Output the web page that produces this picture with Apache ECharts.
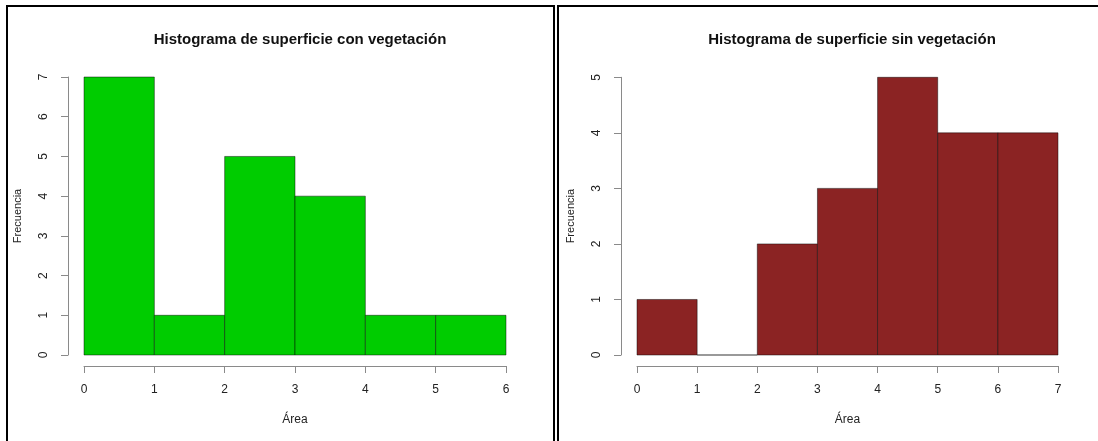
<!DOCTYPE html>
<html>
<head>
<meta charset="utf-8">
<script src="https://cdn.jsdelivr.net/npm/echarts@6/dist/echarts.min.js"></script>
<style>html,body{margin:0;padding:0;background:#fff;}#c{width:1098px;height:441px;}</style>
</head>
<body>
<div id="c"></div>
<script>
// Data
var titles = ['Histograma de superficie con vegetación', 'Histograma de superficie sin vegetación'];
var xName = 'Área';
var yName = 'Frecuencia';
var breaksCon = [0, 1, 2, 3, 4, 5, 6];
var countsCon = [7, 1, 5, 4, 1, 1];
var breaksSin = [0, 1, 2, 3, 4, 5, 6, 7];
var countsSin = [1, 0, 2, 3, 5, 4, 4];
var colorCon = '#00CC00';
var colorSin = '#8B2323';

function toData(breaks, counts) {
  var d = [];
  for (var i = 0; i < counts.length; i++) d.push([breaks[i], breaks[i + 1], counts[i]]);
  return d;
}

function renderItem(params, api) {
  var p0 = api.coord([api.value(0), api.value(2)]);
  var p1 = api.coord([api.value(1), 0]);
  return {
    type: 'rect',
    shape: { x: p0[0], y: p0[1], width: p1[0] - p0[0], height: p1[1] - p0[1] },
    style: { fill: api.visual('color'), stroke: 'rgba(0,0,0,0.45)', lineWidth: 1 }
  };
}

var font = 'Liberation Sans, Arial, sans-serif';
var axisLineStyle = { color: '#8a8a8a', width: 1 };

function xAxisCfg(gi, max) {
  return {
    gridIndex: gi, type: 'value', min: 0, max: max, interval: 1,
    offset: 11,
    name: xName, nameLocation: 'middle', nameGap: 48,
    nameTextStyle: { color: '#222', fontSize: 12, fontFamily: font },
    axisLine: { show: true, onZero: false, lineStyle: axisLineStyle },
    axisTick: { show: true, length: 7, lineStyle: axisLineStyle },
    axisLabel: { color: '#222', fontSize: 12, fontFamily: font, margin: 18 },
    splitLine: { show: false }
  };
}
function yAxisCfg(gi, max) {
  return {
    gridIndex: gi, type: 'value', min: 0, max: max, interval: 1,
    offset: 16,
    name: yName, nameLocation: 'middle', nameGap: 45, nameRotate: 90,
    nameTextStyle: { color: '#222', fontSize: 11, fontFamily: font },
    axisLine: { show: true, onZero: false, lineStyle: axisLineStyle },
    axisTick: { show: true, length: 7, lineStyle: axisLineStyle },
    axisLabel: { color: '#222', fontSize: 12, fontFamily: font, rotate: 90, margin: 18 },
    splitLine: { show: false }
  };
}

var chart = echarts.init(document.getElementById('c'), null, { renderer: 'canvas' });
chart.setOption({
  animation: false,
  backgroundColor: '#fff',
  title: [
    { text: titles[0], left: 295, top: 27, textAlign: 'center',
      textStyle: { fontSize: 15, fontWeight: 'bold', color: '#111', fontFamily: font } },
    { text: titles[1], left: 847, top: 27, textAlign: 'center',
      textStyle: { fontSize: 15, fontWeight: 'bold', color: '#111', fontFamily: font } }
  ],
  graphic: [
    { type: 'rect', shape: { x: 7, y: 6, width: 547, height: 460 },
      style: { fill: 'none', stroke: '#000', lineWidth: 2 }, z: 100 },
    { type: 'rect', shape: { x: 558, y: 6, width: 560, height: 460 },
      style: { fill: 'none', stroke: '#000', lineWidth: 2 }, z: 100 }
  ],
  grid: [
    { left: 84, width: 422, top: 77, height: 278 },
    { left: 637, width: 421, top: 77.3, height: 277.7 }
  ],
  xAxis: [xAxisCfg(0, 6), xAxisCfg(1, 7)],
  yAxis: [yAxisCfg(0, 7), yAxisCfg(1, 5)],
  series: [
    { type: 'custom', xAxisIndex: 0, yAxisIndex: 0, renderItem: renderItem,
      itemStyle: { color: colorCon }, encode: { x: [0, 1], y: 2 }, data: toData(breaksCon, countsCon) },
    { type: 'custom', xAxisIndex: 1, yAxisIndex: 1, renderItem: renderItem,
      itemStyle: { color: colorSin }, encode: { x: [0, 1], y: 2 }, data: toData(breaksSin, countsSin) }
  ]
});
</script>
</body>
</html>
